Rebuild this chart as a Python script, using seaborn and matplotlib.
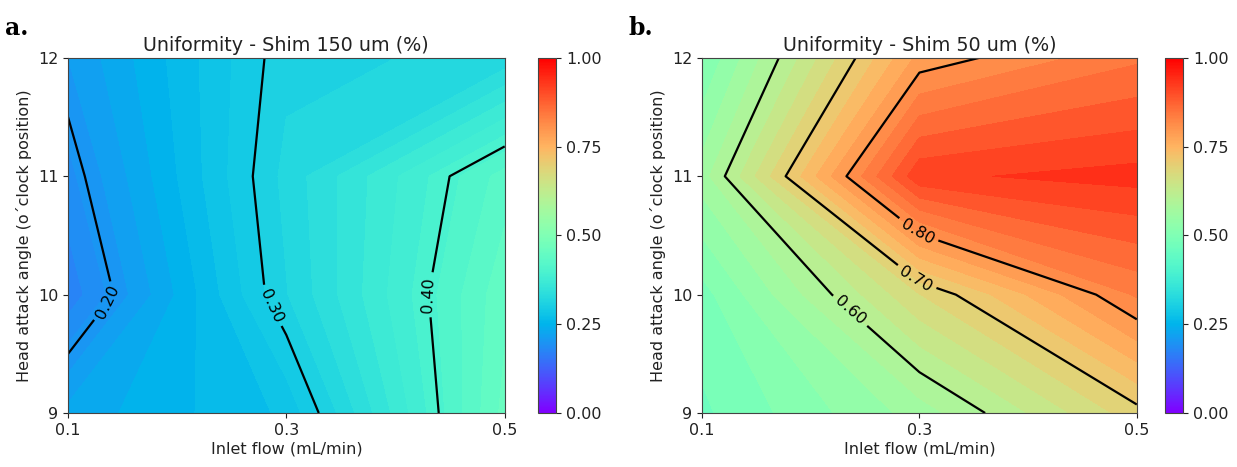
import numpy as np
import matplotlib
matplotlib.use('Agg')
import matplotlib.pyplot as plt
import seaborn as sns

# grid of measurements
inlet_flow = [0.1, 0.3, 0.5]          # mL/min
attack_angle = [9, 10, 11, 12]         # o'clock position

# uniformity, rows = attack angle (9..12), cols = inlet flow
shim_150 = [
    [0.23, 0.273, 0.455],
    [0.17, 0.314, 0.446],
    [0.19, 0.320, 0.427],
    [0.21, 0.310, 0.320],
]
shim_50 = [
    [0.47, 0.561, 0.690],
    [0.49, 0.674, 0.829],
    [0.5625, 0.920, 0.935],
    [0.50, 0.783, 0.845],
]

line_levels_150 = [0.20, 0.30, 0.40]
line_levels_50 = [0.60, 0.70, 0.80]
label_pos_150 = [(0.135, 9.95), (0.285, 9.9), (0.43, 10.0)]
label_pos_50 = [(0.235, 9.85), (0.30, 10.17), (0.30, 10.55)]

titles = ['Uniformity - Shim 150 um (%)', 'Uniformity - Shim 50 um (%)']
panel_tags = ['a.', 'b.']

sns.set_style('ticks')
plt.rcParams['font.family'] = ['DejaVu Sans']
plt.rcParams['font.size'] = 11.5
plt.rcParams['text.color'] = '#222222'
plt.rcParams['axes.labelcolor'] = '#222222'
plt.rcParams['xtick.color'] = '#222222'
plt.rcParams['ytick.color'] = '#222222'

cmap = sns.color_palette('rainbow', as_cmap=True)
norm = matplotlib.colors.Normalize(vmin=0, vmax=1)

fig = plt.figure(figsize=(12.37, 4.67), dpi=100)
ax_boxes = [[0.055, 0.1156, 0.353, 0.7604], [0.5675, 0.1156, 0.3515, 0.7604]]
cb_boxes = [[0.435, 0.1156, 0.0145, 0.7604], [0.942, 0.1156, 0.0145, 0.7604]]
tag_x = [0.004, 0.508]

X, Y = np.meshgrid(inlet_flow, attack_angle)
datasets = [(shim_150, line_levels_150, label_pos_150), (shim_50, line_levels_50, label_pos_50)]

for i, (vals, lvls, lpos) in enumerate(datasets):
    Z = np.array(vals)
    ax = fig.add_axes(ax_boxes[i])
    ax.contourf(X, Y, Z, levels=20, cmap=cmap, norm=norm)
    cs = ax.contour(X, Y, Z, levels=lvls, colors='black', linewidths=1.6)
    ax.clabel(cs, fmt='%.2f', fontsize=11.5, manual=lpos, inline=True)

    ax.set_xticks(inlet_flow)
    ax.set_xticklabels(['0.1', '0.3', '0.5'])
    ax.set_yticks(attack_angle)
    ax.set_xlim(0.1, 0.5)
    ax.set_ylim(9, 12)
    ax.set_title(titles[i], fontsize=13.8, pad=5)
    ax.set_xlabel('Inlet flow (mL/min)', labelpad=3)
    ax.set_ylabel('Head attack angle (o´clock position)', labelpad=4)
    for sp in ax.spines.values():
        sp.set_visible(True)
        sp.set_color('#444444')

    cax = fig.add_axes(cb_boxes[i])
    sm = matplotlib.cm.ScalarMappable(norm=norm, cmap=cmap)
    cb = fig.colorbar(sm, cax=cax, ticks=[0, 0.25, 0.5, 0.75, 1.0])
    cb.ax.set_yticklabels(['0.00', '0.25', '0.50', '0.75', '1.00'])
    cb.outline.set_edgecolor('#444444')

    fig.text(tag_x[i], 0.94, panel_tags[i], fontsize=17, fontweight='bold',
             family='DejaVu Serif', color='black', va='center')

fig.savefig('out.png', dpi=100)
